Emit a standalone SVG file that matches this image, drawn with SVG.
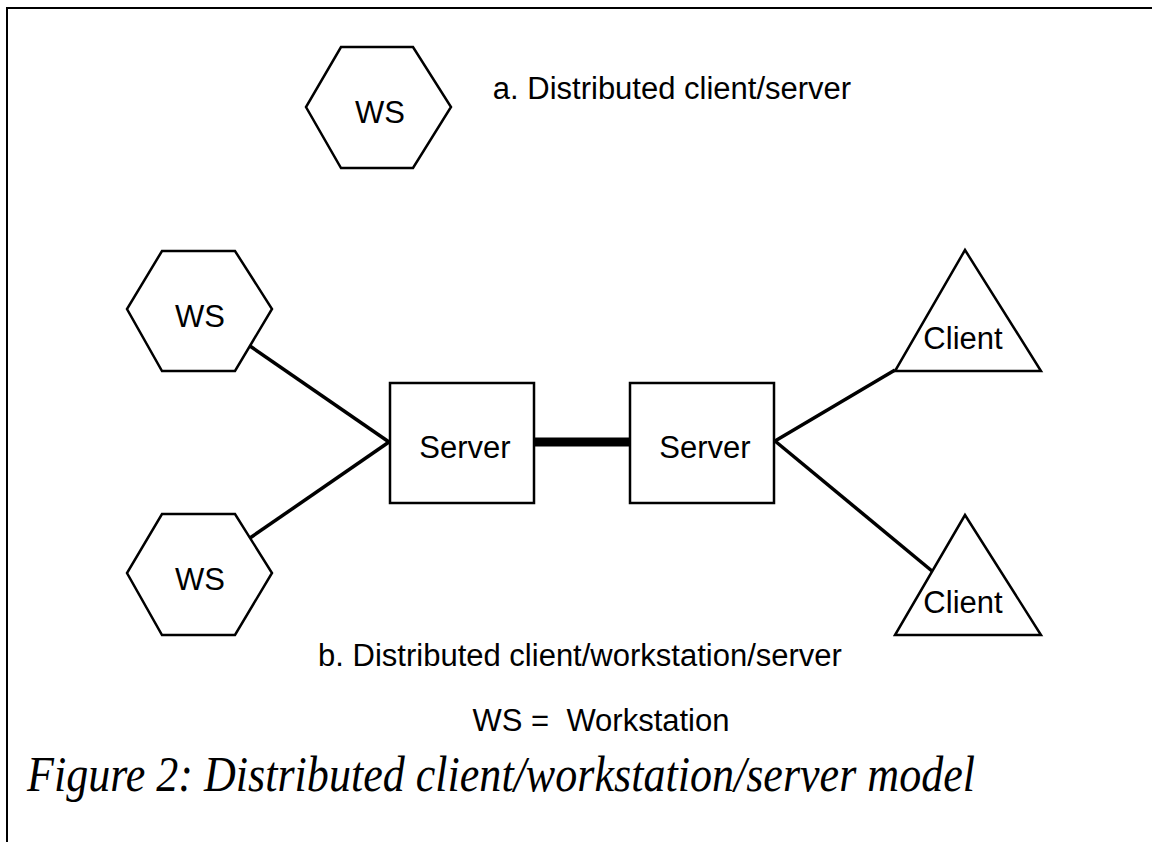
<svg xmlns="http://www.w3.org/2000/svg" width="1152" height="842" viewBox="0 0 1152 842">
<style>
.shape{fill:#fff;stroke:#000;stroke-width:2.5;stroke-linejoin:miter}
.lbl{font-family:"Liberation Sans",Arial,sans-serif;font-size:31px;fill:#000;text-anchor:middle}
.conn{stroke:#000;stroke-width:3.5;fill:none}
.cap{font-family:"Liberation Serif","Times New Roman",serif;font-style:italic;font-size:50px;fill:#000}
</style>
<rect width="1152" height="842" fill="#fff"/>
<g id="frame"><polyline points="7,842 7,8 1152,8" fill="none" stroke="#000" stroke-width="2"/></g>
<g id="connectors">
<line class="conn" x1="250" y1="346" x2="389" y2="442"/>
<line class="conn" x1="250" y1="538" x2="389" y2="442"/>
<line x1="534" y1="442" x2="630" y2="442" stroke="#000" stroke-width="9"/>
<line class="conn" x1="775" y1="441" x2="895" y2="370"/>
<line class="conn" x1="775" y1="441" x2="932" y2="571"/>
</g>
<g id="ws-top"><polygon class="shape" points="341,47 413,47 451,107 413,168 341,168 306,107"/><text class="lbl" x="380" y="123">WS</text></g>
<text id="label-a" class="lbl" x="672" y="99">a. Distributed client/server</text>
<g id="ws1"><polygon class="shape" points="162,251 235,251 272,309 235,371 162,371 127,309"/><text class="lbl" x="200" y="327">WS</text></g>
<g id="ws2"><polygon class="shape" points="162,514 235,514 272,573 235,635 162,635 127,573"/><text class="lbl" x="200" y="590">WS</text></g>
<g id="server1"><rect class="shape" x="390" y="383" width="144" height="120"/><text class="lbl" x="465" y="458">Server</text></g>
<g id="server2"><rect class="shape" x="630" y="383" width="144" height="120"/><text class="lbl" x="705" y="458">Server</text></g>
<g id="client1"><polygon class="shape" points="965,250 1041,371 895,371"/><text class="lbl" x="963" y="349">Client</text></g>
<g id="client2"><polygon class="shape" points="965,515 1041,635 895,635"/><text class="lbl" x="963" y="613">Client</text></g>
<text id="label-b" class="lbl" x="580" y="666">b. Distributed client/workstation/server</text>
<text id="legend" class="lbl" x="601" y="731" xml:space="preserve">WS =  Workstation</text>
<text id="caption" class="cap" x="27" y="791" textLength="948" lengthAdjust="spacingAndGlyphs">Figure 2: Distributed client/workstation/server model</text>
</svg>
